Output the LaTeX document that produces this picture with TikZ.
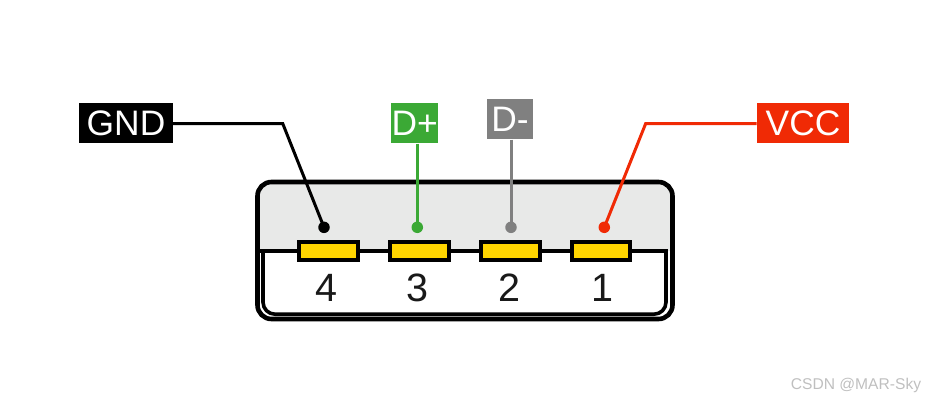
\documentclass[tikz,border=0pt]{standalone}
\usepackage{fontspec}
\setmainfont{Liberation Sans}
\definecolor{wgreen}{HTML}{3BA935}
\definecolor{wgray}{HTML}{808080}
\definecolor{wred}{HTML}{F02A05}
\definecolor{pinyellow}{HTML}{FFD500}
\definecolor{topgray}{HTML}{E8E9E8}
\tikzset{
  tag/.style={rectangle,inner sep=0pt,text=white,minimum height=40pt,text height=25pt,text depth=0pt,font=\fontsize{35.4}{38}\selectfont},
  pinbox/.style={rectangle,draw=black,line width=4pt,fill=pinyellow,minimum width=58.5pt,minimum height=18.5pt,inner sep=0pt},
  dot/.style={circle,inner sep=0pt,minimum size=11.5pt},
  wire/.style={line width=3pt,line join=miter},
  digit/.style={inner sep=0pt,text=black!90,text height=28pt,text depth=0pt,font=\fontsize{39.5}{41}\selectfont},
}
\begin{document}
\begin{tikzpicture}[x=1pt,y=-1pt]
\useasboundingbox (0,0) rectangle (928,400);
% shell
\fill[topgray,rounded corners=14pt] (257.5,251) [sharp corners] -- (257.5,240) [rounded corners=14pt] -- (257.5,182) -- (672.5,182) -- (672.5,240) [sharp corners] -- (672.5,251) -- cycle;
\fill[white] (260,253) rectangle (670,316);
\draw[line width=4.6pt,rounded corners=14pt] (257.5,182) rectangle (672.5,319);
\draw[line width=3.6pt,line join=miter] (259,250.7) -- (666,250.7);
\draw[line width=3.6pt,line join=round,rounded corners=12pt]
  (666,249) -- (666,314.2) -- (263,314.2) -- (263,250.7);
% pins
\node[pinbox] (p4) at (328.7,250.8) {};
\node[pinbox] (p3) at (419.7,250.8) {};
\node[pinbox] (p2) at (510.5,250.8) {};
\node[pinbox] (p1) at (601,250.8) {};
\node[digit] (n4) at (326,287) {4};
\node[digit] (n3) at (417.5,287) {3};
\node[digit] (n2) at (509,287) {2};
\node[digit] (n1) at (602,287) {1};
% labels
\node[tag,fill=black,minimum width=93.4pt] (gnd) at (126,123.3) {GND};
\node[tag,fill=wgreen,minimum width=47.3pt] (dp) at (414.7,123.3) {D+};
\node[tag,fill=wgray,minimum width=46.6pt] (dm) at (510,119.3) {D-};
\node[tag,fill=wred,minimum width=92.6pt] (vcc) at (803,123.3) {VCC};
% contact dots
\node[dot,fill=black] (d4) at (324,227.3) {};
\node[dot,fill=wgreen] (d3) at (417.3,227.3) {};
\node[dot,fill=wgray] (d2) at (511,227.3) {};
\node[dot,fill=wred] (d1) at (604.3,227.3) {};
% wires
\coordinate (gb) at (282.7,123.5);
\coordinate (vb) at (645.7,123.5);
\draw[wire,black] (gnd.east |- gb) -- (gb) -- (d4.center);
\draw[wire,wgreen] (d3.center |- dp.south) -- (d3.center);
\draw[wire,wgray] (d2.center |- dm.south) -- (d2.center);
\draw[wire,wred] (vcc.west |- vb) -- (vb) -- (d1.center);
% watermark
\node[inner sep=0pt,text=black!25,font=\fontsize{15.6}{18}\selectfont] (wm) at (856,385) {CSDN @MAR-Sky};
\end{tikzpicture}
\end{document}
